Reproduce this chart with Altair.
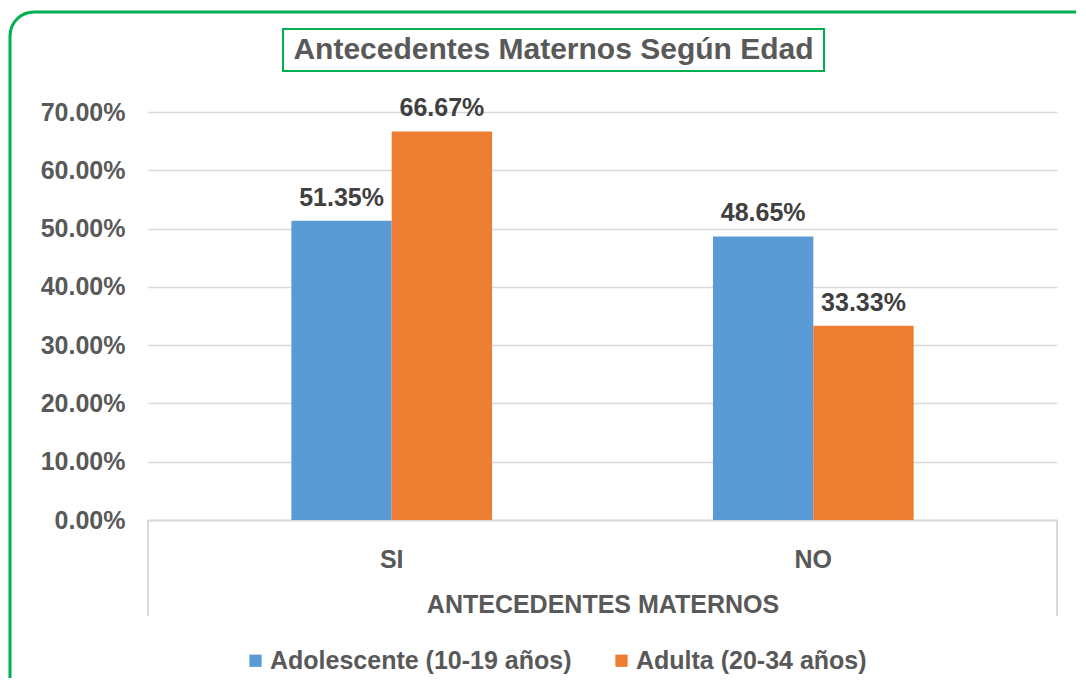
import altair as alt
import pandas as pd

categorias = ["SI", "NO"]
series = ["Adolescente (10-19 años)", "Adulta (20-34 años)"]
adolescente = [0.5135, 0.4865]
adulta = [0.6667, 0.3333]
colores = ["#5B9BD5", "#ED7D31"]

rows = []
for i, c in enumerate(categorias):
    rows.append({"cat": c, "serie": series[0], "valor": adolescente[i]})
    rows.append({"cat": c, "serie": series[1], "valor": adulta[i]})
df = pd.DataFrame(rows)

W, H = 909, 408
FONT = "Liberation Sans"
GRAY = "#595959"
FS = 25

x_enc = alt.X("cat:N", sort=categorias,
              scale=alt.Scale(paddingInner=0.524, paddingOuter=0.34),
              axis=alt.Axis(title="ANTECEDENTES MATERNOS", labelAngle=0,
                            labelPadding=27, titlePadding=20, ticks=False,
                            domain=True, domainColor="#d9d9d9", domainWidth=2,
                            grid=False))
xoff = alt.XOffset("serie:N", sort=series, scale=alt.Scale(paddingInner=0, paddingOuter=0))
y_enc = alt.Y("valor:Q", scale=alt.Scale(domain=[0, 0.7], nice=False),
              axis=alt.Axis(title=None, format=".2%", values=[0, 0.1, 0.2, 0.3, 0.4, 0.5, 0.6, 0.7],
                            labelPadding=23, ticks=False, domain=False,
                            grid=True, gridColor="#d9d9d9", gridWidth=1.5))

bars = alt.Chart(df).mark_bar().encode(
    x=x_enc, xOffset=xoff, y=y_enc,
    color=alt.Color("serie:N", sort=series,
                    scale=alt.Scale(domain=series, range=colores),
                    legend=alt.Legend(title=None, orient="none", direction="horizontal",
                                      legendX=95, legendY=536, symbolType="square",
                                      symbolSize=150, symbolStrokeWidth=0,
                                      labelFontSize=FS, labelFont=FONT, labelFontWeight="bold",
                                      labelColor=GRAY, columnPadding=37, labelOffset=2,
                                      labelLimit=0)),
)

labels = alt.Chart(df).mark_text(baseline="bottom", dy=-10, fontSize=FS, font=FONT,
                                  fontWeight="bold", color="#404040").encode(
    x=alt.X("cat:N", sort=categorias), xOffset=alt.XOffset("serie:N", sort=series),
    y="valor:Q", text=alt.Text("valor:Q", format=".2%"),
)

one = pd.DataFrame({"k": [0]})
outer = alt.Chart(one).mark_rect(fill="transparent", stroke="#00B050", strokeWidth=3,
                                 cornerRadius=24).encode(
    x=alt.value(-138), x2=alt.value(1000), y=alt.value(-100), y2=alt.value(600))
titlebox = alt.Chart(one).mark_rect(fill="transparent", stroke="#00B050", strokeWidth=2).encode(
    x=alt.value(135), x2=alt.value(676), y=alt.value(-83), y2=alt.value(-41))
titletext = alt.Chart(one).mark_text(fontSize=30, font=FONT, fontWeight="bold", color=GRAY,
                                     baseline="middle", align="center").encode(
    x=alt.value(405.5), y=alt.value(-62), text=alt.value("Antecedentes Maternos Según Edad"))
leftrule = alt.Chart(one).mark_rule(color="#d9d9d9", strokeWidth=2).encode(
    x=alt.value(0), y=alt.value(H), y2=alt.value(H + 96))
rightrule = alt.Chart(one).mark_rule(color="#d9d9d9", strokeWidth=2).encode(
    x=alt.value(W), y=alt.value(H), y2=alt.value(H + 96))

chart = alt.layer(bars, labels, outer, titlebox, titletext, leftrule, rightrule).properties(
    width=W, height=H,
    autosize=alt.AutoSizeParams(type="none"),
    padding={"left": 140, "top": 104, "right": 19, "bottom": 158},
    background="white",
).configure_view(stroke=None).configure_axis(
    labelFont=FONT, labelFontSize=FS, labelFontWeight="bold", labelColor=GRAY,
    titleFont=FONT, titleFontSize=FS, titleFontWeight="bold", titleColor=GRAY,
)

chart.save("out.html", embed_options={"renderer": "svg", "actions": False})
